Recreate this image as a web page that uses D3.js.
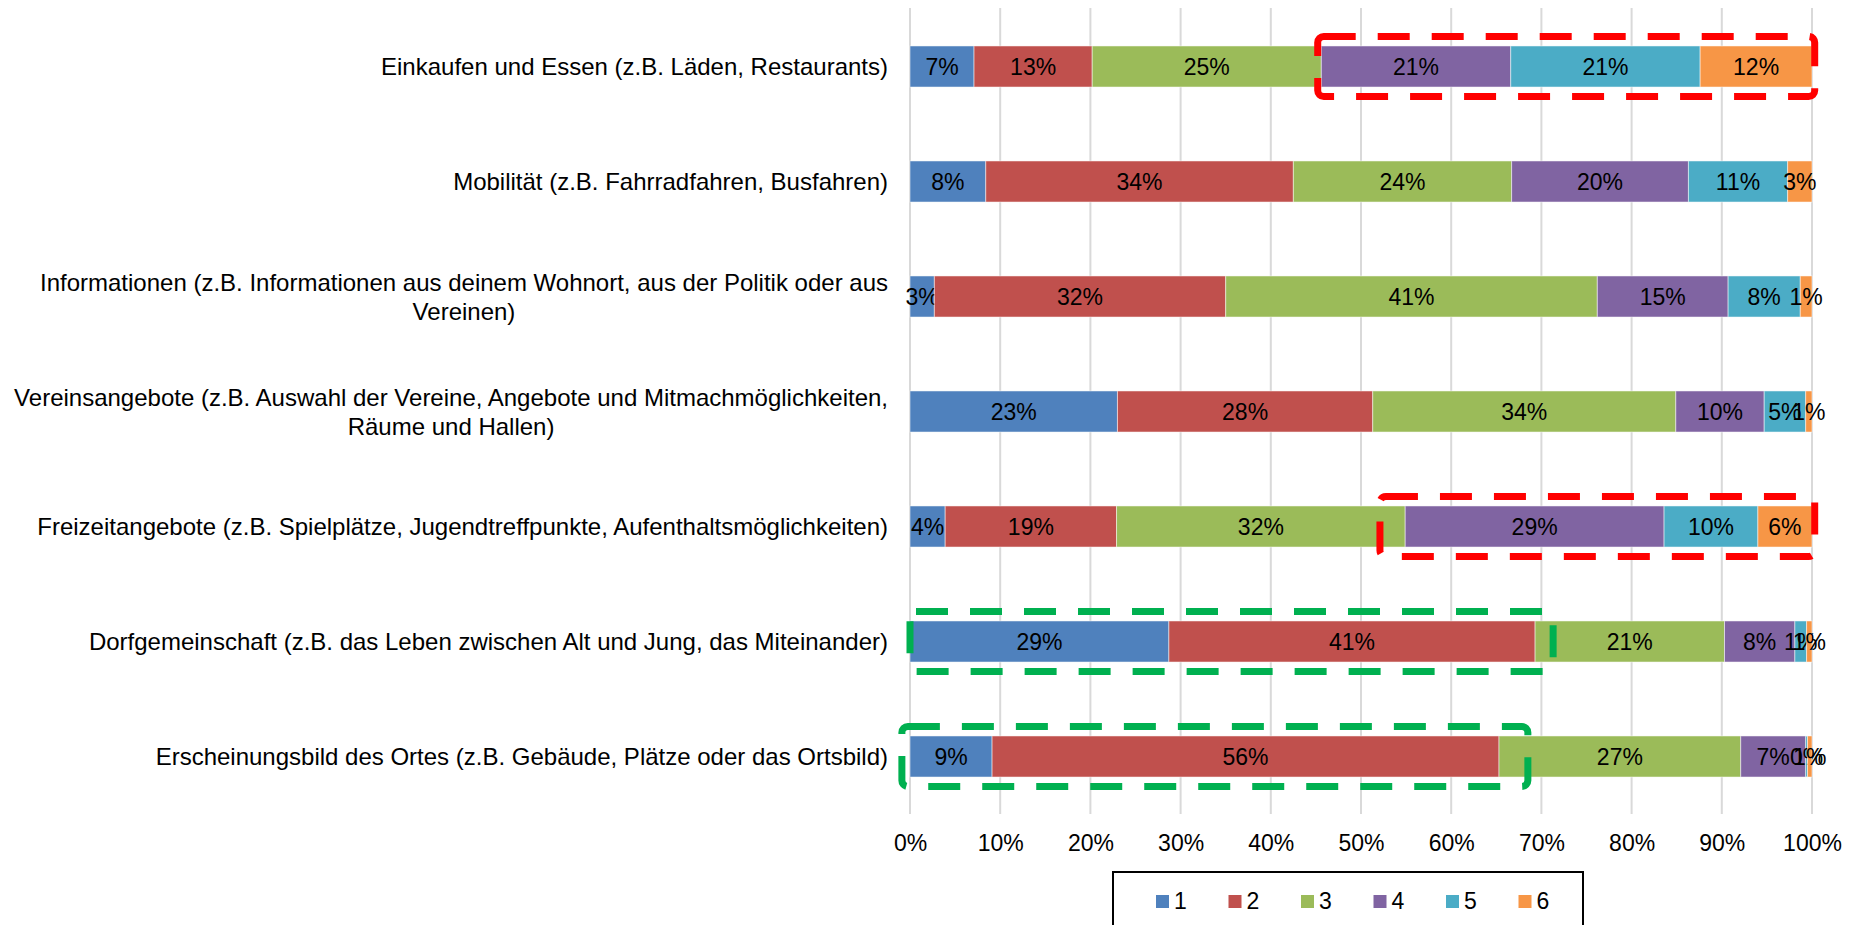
<!DOCTYPE html>
<html>
<head>
<meta charset="utf-8">
<script src="https://cdn.jsdelivr.net/npm/d3@7"></script>
<style>
  body { margin: 0; background: #fff; }
  svg text { font-family: "Liberation Sans", Arial, sans-serif; fill: #000; }
</style>
</head>
<body>
<script>
// categories, top to bottom ("\n" = line break in the label)
var categories = [
  "Einkaufen und Essen (z.B. Läden, Restaurants)",
  "Mobilität (z.B. Fahrradfahren, Busfahren)",
  "Informationen (z.B. Informationen aus deinem Wohnort, aus der Politik oder aus\nVereinen)",
  "Vereinsangebote (z.B. Auswahl der Vereine, Angebote und Mitmachmöglichkeiten,\nRäume und Hallen)",
  "Freizeitangebote (z.B. Spielplätze, Jugendtreffpunkte, Aufenthaltsmöglichkeiten)",
  "Dorfgemeinschaft (z.B. das Leben zwischen Alt und Jung, das Miteinander)",
  "Erscheinungsbild des Ortes (z.B. Gebäude, Plätze oder das Ortsbild)"
];

var seriesNames = ["1", "2", "3", "4", "5", "6"];
var seriesColors = ["#4F81BD", "#C0504D", "#9BBB59", "#8064A2", "#4BACC6", "#F79646"];

// percent per series, one value per category
var s1 = [7.1, 8.4, 2.7, 23.0, 3.9, 28.7, 9.1];
var s2 = [13.1, 34.1, 32.3, 28.3, 19.0, 40.6, 56.2];
var s3 = [25.4, 24.2, 41.2, 33.6, 32.0, 21.0, 26.8];
var s4 = [21.0, 19.6, 14.5, 9.8, 28.7, 7.8, 7.2];
var s5 = [21.0, 11.0, 8.0, 4.6, 10.4, 1.3, 0.2];
var s6 = [12.4, 2.7, 1.3, 0.7, 6.0, 0.6, 0.5];

var tickValues = [0, 10, 20, 30, 40, 50, 60, 70, 80, 90, 100];

// dashed highlight boxes drawn over the chart (category index, from %, to %)
var boxCategory = [0, 4, 5, 6];
var boxFrom = [45.2, 52.1, 0, -0.9];
var boxTo = [100.3, 100.3, 71.3, 68.5];
var boxColor = ["#FF0000", "#FF0000", "#00B050", "#00B050"];

var width = 1857;
var height = 925;
var fontSize = 23;

var allSeries = [s1, s2, s3, s4, s5, s6];
var rows = categories.map(function(c, i) {
  var row = { cat: c };
  seriesNames.forEach(function(s, j) { row[s] = allSeries[j][i]; });
  return row;
});

var svg = d3.select("body")
            .append("svg")
            .attr("width", width)
            .attr("height", height);

var xScale = d3.scaleLinear()
               .domain([0, 100])
               .range([910, 1812]);

var yScale = d3.scaleBand()
               .domain(categories)
               .range([9, 814])
               .paddingInner(0.643)
               .paddingOuter(0.3215);

// gridlines
svg.append("g")
   .selectAll("line")
   .data(tickValues)
   .enter()
   .append("line")
   .attr("x1", function(d) { return xScale(d); })
   .attr("x2", function(d) { return xScale(d); })
   .attr("y1", 8)
   .attr("y2", 814)
   .attr("stroke", "#D9D9D9")
   .attr("stroke-width", 2);

// x axis labels
var xAxis = d3.axisBottom(xScale)
              .tickValues(tickValues)
              .tickSize(0)
              .tickPadding(0)
              .tickFormat(function(d) { return d + "%"; });

var xg = svg.append("g")
            .attr("transform", "translate(0,822)")
            .call(xAxis);
xg.select(".domain").remove();
xg.selectAll("text")
  .attr("font-size", fontSize)
  .attr("font-family", "Liberation Sans, Arial, sans-serif")
  .attr("dy", "0.71em")
  .attr("y", 13);

// stacked bars
var stack = d3.stack().keys(seriesNames);
var stacked = stack(rows);

var layers = svg.append("g")
   .selectAll("g")
   .data(stacked)
   .enter()
   .append("g")
   .attr("fill", function(d, i) { return seriesColors[i]; });

layers.selectAll("rect")
   .data(function(d) { return d; })
   .enter()
   .append("rect")
   .attr("x", function(d) { return xScale(d[0]); })
   .attr("y", function(d) { return yScale(d.data.cat); })
   .attr("width", function(d) { return xScale(d[1]) - xScale(d[0]); })
   .attr("height", yScale.bandwidth())
   .attr("stroke", "rgba(255,255,255,0.5)")
   .attr("stroke-width", 1);

// data labels
layers.selectAll("text")
   .data(function(d) { return d; })
   .enter()
   .append("text")
   .attr("x", function(d) { return (xScale(d[0]) + xScale(d[1])) / 2; })
   .attr("y", function(d) { return yScale(d.data.cat) + yScale.bandwidth() / 2; })
   .attr("dy", "0.36em")
   .attr("text-anchor", "middle")
   .attr("font-size", fontSize)
   .style("fill", "#000")
   .text(function(d) { return Math.round(d[1] - d[0]) + "%"; });

// category labels, wrapped lines centred on each other, block right aligned
var labelRight = 888;
var lineGap = 29;
categories.forEach(function(c) {
  var lines = c.split("\n");
  var cy = yScale(c) + yScale.bandwidth() / 2;
  var t = svg.append("text")
             .attr("font-size", 24)
             .attr("text-anchor", "middle");
  var spans = lines.map(function(line, i) {
    return t.append("tspan")
            .attr("y", cy + (i - (lines.length - 1) / 2) * lineGap)
            .attr("dy", "0.36em")
            .text(line);
  });
  var maxW = d3.max(spans, function(s) { return s.node().getComputedTextLength(); });
  spans.forEach(function(s) { s.attr("x", labelRight - maxW / 2); });
});

// highlight boxes
boxCategory.forEach(function(ci, i) {
  var cy = yScale(categories[ci]) + yScale.bandwidth() / 2;
  var x0 = xScale(boxFrom[i]);
  var x1 = xScale(boxTo[i]);
  svg.append("rect")
     .attr("x", x0)
     .attr("y", cy - 30)
     .attr("width", x1 - x0)
     .attr("height", 60)
     .attr("rx", 6)
     .attr("fill", "none")
     .attr("stroke", boxColor[i])
     .attr("stroke-width", 7)
     .attr("stroke-dasharray", "32 22");
});

// legend
var legend = svg.append("g");
legend.append("rect")
      .attr("x", 1113)
      .attr("y", 872)
      .attr("width", 470)
      .attr("height", 80)
      .attr("fill", "#fff")
      .attr("stroke", "#000")
      .attr("stroke-width", 2);

var items = legend.selectAll("g.item")
      .data(seriesNames)
      .enter()
      .append("g")
      .attr("class", "item")
      .attr("transform", function(d, i) { return "translate(" + (1156 + i * 72.5) + ",895)"; });

items.append("rect")
     .attr("width", 13)
     .attr("height", 13)
     .attr("fill", function(d, i) { return seriesColors[i]; });

items.append("text")
     .attr("x", 18)
     .attr("y", 14)
     .attr("font-size", 23)
     .text(function(d) { return d; });
</script>
</body>
</html>
